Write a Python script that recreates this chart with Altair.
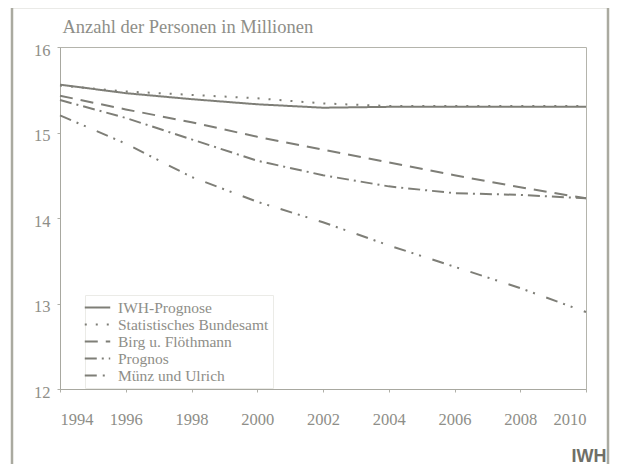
import altair as alt
import pandas as pd

years = [1994, 1996, 1998, 2000, 2002, 2004, 2006, 2008, 2010]
series_names = ["IWH-Prognose", "Statistisches Bundesamt", "Birg u. Flöthmann", "Prognos", "Münz und Ulrich"]
iwh = [15.56, 15.46, 15.39, 15.33, 15.29, 15.30, 15.30, 15.30, 15.30]
stat = [15.55, 15.48, 15.44, 15.40, 15.34, 15.31, 15.31, 15.31, 15.31]
birg = [15.43, 15.27, 15.12, 14.95, 14.80, 14.65, 14.50, 14.36, 14.23]
prognos = [15.38, 15.17, 14.92, 14.67, 14.50, 14.37, 14.29, 14.27, 14.23]
muenz = [15.20, 14.87, 14.48, 14.19, 13.95, 13.68, 13.43, 13.18, 12.90]
y_ticks = [12, 13, 14, 15, 16]
x_ticks = years

rows = []
for name, vals in zip(series_names, [iwh, stat, birg, prognos, muenz]):
    for yr, v in zip(years, vals):
        rows.append({"Jahr": yr, "Wert": v, "Reihe": name})
df = pd.DataFrame(rows)

LINE = "#7e7e77"
TEXT = "#8e8e88"
SERIF = "Liberation Serif, DejaVu Serif, Times New Roman, serif"

lines = alt.Chart(df).mark_line(strokeWidth=2, color=LINE).encode(
    x=alt.X("Jahr:Q", scale=alt.Scale(domain=[1994, 2010], nice=False),
            axis=alt.Axis(values=x_ticks, format="d", title="IWH", grid=False,
                          labelFont=SERIF, labelFontSize=16.5, labelColor=TEXT,
                          labelPadding=19, tickSize=3, tickColor="#b0b0a8",
                          domainColor="#a8a8a0",
                          titleFont="Liberation Sans", titleFontSize=18,
                          titleFontWeight="bold", titleColor="#6f6f67",
                          titleX=546, titleY=67, titleAlign="right",
                          titleBaseline="middle", titleAnchor="end")),
    y=alt.Y("Wert:Q", scale=alt.Scale(domain=[12, 16], nice=False, zero=False),
            axis=alt.Axis(values=y_ticks, grid=False,
                          title="Anzahl der Personen in Millionen",
                          titleAngle=0, titleX=2, titleY=-21, titleAlign="left",
                          titleBaseline="middle", titleFont=SERIF, titleFontSize=18.5,
                          titleFontWeight="normal", titleColor=TEXT,
                          labelFont=SERIF, labelFontSize=16.5, labelColor=TEXT,
                          labelPadding=7, labelOffset=3, tickSize=3, tickColor="#b0b0a8",
                          domainColor="#a8a8a0")),
    strokeDash=alt.StrokeDash(
        "Reihe:N",
        scale=alt.Scale(domain=series_names,
                        range=[[1, 0], [2, 9], [13, 8], [12, 5, 2, 5], [12, 6, 2, 6, 2, 12]]),
        legend=alt.Legend(title=None, orient="none", legendX=25, legendY=248,
                          symbolType="M-1.8,0L1.8,0", symbolSize=200,
                          symbolStrokeColor=LINE, symbolStrokeWidth=2,
                          labelFont=SERIF, labelFontSize=15.5, labelColor=TEXT,
                          labelOffset=12, rowPadding=0, padding=4,
                          strokeColor="#ebebe7", fillColor="white",
                          labelLimit=300)),
    detail="Reihe:N",
)

frame = alt.Chart(pd.DataFrame({"a": [0]})).mark_rect(
    fill=None, stroke="#aaaaa0", strokeWidth=2.5
).encode(
    x=alt.value(-48), x2=alt.value(548), y=alt.value(-40), y2=alt.value(440)
)

chart = alt.layer(frame, lines).properties(
    width=526, height=342,
    autosize=alt.AutoSizeParams(type="none"),
    padding={"left": 52, "top": 39, "right": 24, "bottom": 75},
).configure_view(stroke="#b4b4ac", strokeWidth=1)

chart.save("out.html", embed_options={"renderer": "svg", "actions": False})
